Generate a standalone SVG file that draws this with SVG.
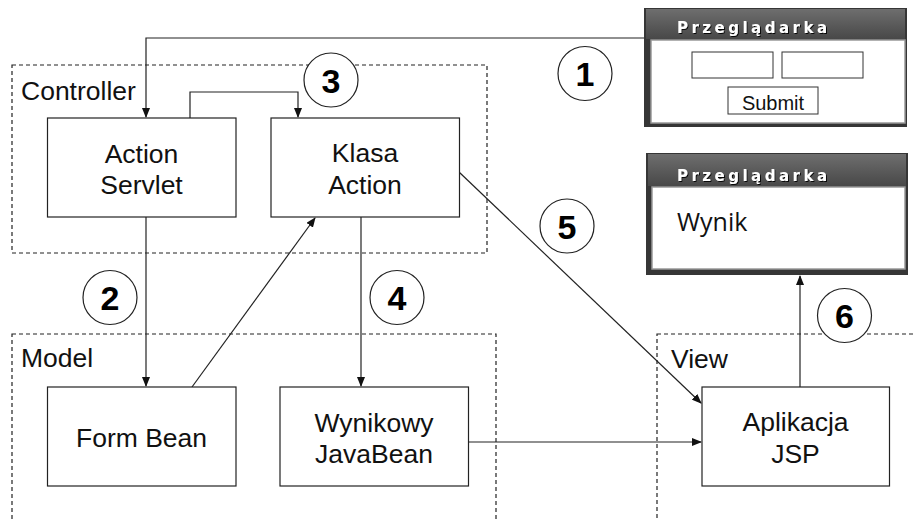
<svg xmlns="http://www.w3.org/2000/svg" width="914" height="519" viewBox="0 0 914 519">
<style>
.lbl{font-family:"Liberation Sans",Arial,sans-serif;font-size:26.5px;fill:#111}
.node{fill:#fff;stroke:#222;stroke-width:1.2}
.grp{fill:none;stroke:#222;stroke-width:1.2;stroke-dasharray:4 3}
.num{fill:#fff;stroke:#222;stroke-width:1.2}
.numt{font-family:"Liberation Sans",Arial,sans-serif;font-size:34px;font-weight:bold;fill:#000;text-anchor:middle}
.con{fill:none;stroke:#222;stroke-width:1.2}
.ttl{font-family:"DejaVu Sans","Open Sans",sans-serif;font-size:15px;font-weight:bold;fill:#fff}
.inner{fill:#fff;stroke:#999;stroke-width:1.5}
.inp{fill:#fff;stroke:#333;stroke-width:1}
</style>
<defs>
<marker id="ah" markerWidth="10" markerHeight="8" refX="9" refY="4" orient="auto" markerUnits="userSpaceOnUse">
<path d="M0,0 L10,4 L0,8 z" fill="#111"/>
</marker>
<linearGradient id="tbar" x1="0" y1="0" x2="0" y2="1">
<stop offset="0" stop-color="#6e6e6e"/>
<stop offset="1" stop-color="#484848"/>
</linearGradient>
<filter id="sh" x="-10%" y="-30%" width="120%" height="160%">
<feDropShadow dx="1" dy="1" stdDeviation="0.6" flood-color="#000" flood-opacity="0.9"/>
</filter>
</defs>
<rect width="914" height="519" fill="#fff"/>

<g id="groups">
<rect class="grp" x="12" y="65" width="475" height="188"/>
<text class="lbl" x="21" y="100">Controller</text>
<rect class="grp" x="12" y="334" width="484" height="200"/>
<text class="lbl" x="21" y="367">Model</text>
<rect class="grp" x="657" y="334" width="270" height="200"/>
<text class="lbl" x="671" y="368">View</text>
</g>

<g id="connectors">
<path class="con" d="M647 38 H146 V117" marker-end="url(#ah)"/>
<path class="con" d="M190 118 V92 H298 V117" marker-end="url(#ah)"/>
<path class="con" d="M146 217 V386" marker-end="url(#ah)"/>
<path class="con" d="M192 387 L315 218" marker-end="url(#ah)"/>
<path class="con" d="M361 217 V386" marker-end="url(#ah)"/>
<path class="con" d="M459 172 L701 403" marker-end="url(#ah)"/>
<path class="con" d="M468 442 H701" marker-end="url(#ah)"/>
<path class="con" d="M800 387 V276" marker-end="url(#ah)"/>
</g>

<g id="action-servlet">
<rect class="node" x="47.5" y="118" width="188.5" height="99"/>
<text class="lbl" x="141.5" y="163" text-anchor="middle">Action</text>
<text class="lbl" x="141.5" y="194" text-anchor="middle">Servlet</text>
</g>
<g id="klasa-action">
<rect class="node" x="271" y="118" width="188.5" height="99"/>
<text class="lbl" x="365" y="162" text-anchor="middle">Klasa</text>
<text class="lbl" x="365" y="194" text-anchor="middle">Action</text>
</g>
<g id="form-bean">
<rect class="node" x="47.5" y="387" width="188.5" height="99"/>
<text class="lbl" x="141.5" y="447" text-anchor="middle">Form Bean</text>
</g>
<g id="wynikowy-javabean">
<rect class="node" x="280" y="387" width="188.5" height="99"/>
<text class="lbl" x="374" y="432" text-anchor="middle">Wynikowy</text>
<text class="lbl" x="374" y="463" text-anchor="middle">JavaBean</text>
</g>
<g id="aplikacja-jsp">
<rect class="node" x="702" y="387" width="187.5" height="99"/>
<text class="lbl" x="795.5" y="431" text-anchor="middle">Aplikacja</text>
<text class="lbl" x="795.5" y="463" text-anchor="middle">JSP</text>
</g>

<g id="step1"><circle class="num" cx="585" cy="73.5" r="27"/><text class="numt" x="585" y="86">1</text></g>
<g id="step2"><circle class="num" cx="110" cy="297.5" r="27"/><text class="numt" x="110" y="310">2</text></g>
<g id="step3"><circle class="num" cx="331" cy="80" r="27"/><text class="numt" x="331" y="92.5">3</text></g>
<g id="step4"><circle class="num" cx="397" cy="297.5" r="27"/><text class="numt" x="397" y="310">4</text></g>
<g id="step5"><circle class="num" cx="567" cy="226" r="27"/><text class="numt" x="567" y="238.5">5</text></g>
<g id="step6"><circle class="num" cx="844.5" cy="315.5" r="27"/><text class="numt" x="844.5" y="328">6</text></g>

<g id="browser-input">
<rect x="644" y="8" width="263" height="119" fill="#363636"/>
<rect x="646" y="9" width="259" height="30" fill="url(#tbar)"/>
<text class="ttl" x="677" y="33" textLength="150" lengthAdjust="spacing" filter="url(#sh)">Przeglądarka</text>
<rect class="inner" x="651" y="40" width="254" height="83"/>
<rect class="inp" x="692" y="52" width="81" height="26"/>
<rect class="inp" x="782" y="52" width="81" height="26"/>
<rect class="inp" x="728" y="87" width="90" height="27"/>
<text x="773" y="110" text-anchor="middle" font-family="'Liberation Sans',Arial,sans-serif" font-size="20" fill="#111">Submit</text>
</g>

<g id="browser-result">
<rect x="646" y="153" width="262" height="122" fill="#363636"/>
<rect x="648" y="154" width="258" height="32" fill="url(#tbar)"/>
<text class="ttl" x="677" y="181" textLength="150" lengthAdjust="spacing" filter="url(#sh)">Przeglądarka</text>
<rect class="inner" x="652" y="187" width="253" height="82"/>
<text x="677" y="231" font-family="'Open Sans','Noto Sans',sans-serif" font-size="25" fill="#111">Wynik</text>
</g>
</svg>
